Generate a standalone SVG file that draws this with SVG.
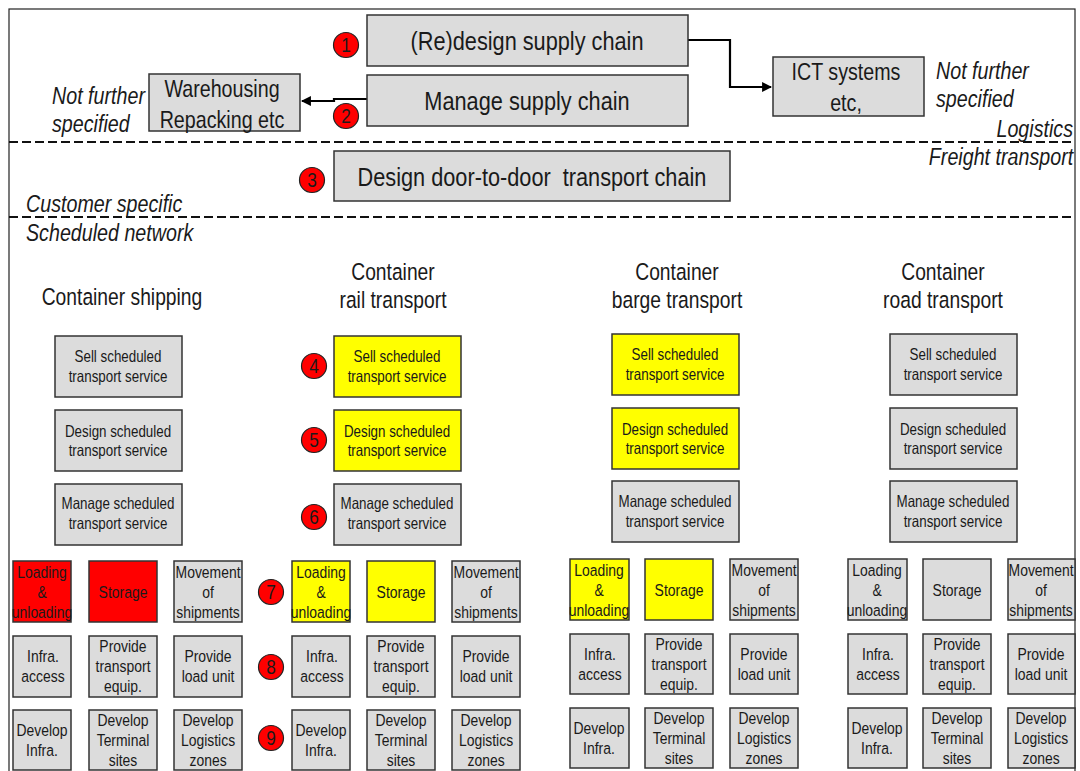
<svg xmlns="http://www.w3.org/2000/svg" width="1080" height="771" viewBox="0 0 1080 771">
<style>
text{font-family:"Liberation Sans Narrow","Arial Narrow","Liberation Sans",Arial,sans-serif;fill:#1a1a1a;transform-box:fill-box;transform-origin:center;transform:scaleX(.82)}
.g{fill:#dcdcdc;stroke:#333;stroke-width:1.5}
.y{fill:#ffff00;stroke:#333;stroke-width:1.5}
.r{fill:#ff0000;stroke:#333;stroke-width:1.5}
.c{fill:#ff0000;stroke:#222;stroke-width:1.2}
.n{font-size:21px;text-anchor:middle}
.big{font-size:26.5px;text-anchor:middle;white-space:pre}
.mid{font-size:24px;text-anchor:middle}
.hd{font-size:23.5px;text-anchor:middle}
.it{font-size:24px;font-style:italic;transform-origin:left center}
.ite{font-size:24px;font-style:italic;text-anchor:end;transform-origin:right center}
.s{font-size:16.3px;text-anchor:middle}
.t{font-size:17px;text-anchor:middle}
.dash{stroke:#111;stroke-width:2;stroke-dasharray:9 4;fill:none}
.con{stroke:#000;stroke-width:2.2;fill:none}
</style>
<defs>
<marker id="ah" viewBox="0 0 10 10" refX="9" refY="5" markerWidth="4.5" markerHeight="4.5" orient="auto"><path d="M0,0 L10,5 L0,10 z" fill="#000"/></marker>
</defs>
<rect x="0" y="0" width="1080" height="771" fill="#fff"/>
<rect x="9" y="9" width="1066" height="780" fill="none" stroke="#222" stroke-width="1.2"/>
<line class="dash" x1="9" y1="142" x2="1075" y2="142"/>
<line class="dash" x1="9" y1="217" x2="1075" y2="217"/>

<g id="labels">
<text class="it" x="52" y="104">Not further</text>
<text class="it" x="52" y="132">specified</text>
<text class="it" x="936" y="79">Not further</text>
<text class="it" x="936" y="107">specified</text>
<text class="ite" x="1073" y="137">Logistics</text>
<text class="ite" x="1073" y="165">Freight transport</text>
<text class="it" x="26" y="212">Customer specific</text>
<text class="it" x="26" y="241">Scheduled network</text>
<text class="hd" x="122" y="305">Container shipping</text>
<text class="hd" x="393" y="280">Container</text>
<text class="hd" x="393" y="308">rail transport</text>
<text class="hd" x="677" y="280">Container</text>
<text class="hd" x="677" y="308">barge transport</text>
<text class="hd" x="943" y="280">Container</text>
<text class="hd" x="943" y="308">road transport</text>
</g>

<g id="connectors">
<path class="con" d="M688,40 H730 V87 H771" marker-end="url(#ah)"/>
<path class="con" d="M367,99 H334 V101 H302" marker-end="url(#ah)"/>
</g>

<g id="n1"><rect class="g" x="367" y="15" width="321" height="51"/><text class="big" x="527" y="50">(Re)design supply chain</text></g>
<g id="n2"><rect class="g" x="367" y="75" width="321" height="51"/><text class="big" x="527" y="110">Manage supply chain</text></g>
<g id="n-wh"><rect class="g" x="149" y="74" width="151" height="57"/><text class="mid" x="222" y="97">Warehousing</text><text class="mid" x="222" y="128">Repacking etc</text></g>
<g id="n-ict"><rect class="g" x="773" y="57" width="151" height="59"/><text class="mid" x="846" y="80">ICT systems</text><text class="mid" x="846" y="111">etc,</text></g>
<g id="n3"><rect class="g" x="334" y="151" width="396" height="50"/><text class="big" x="532" y="186">Design door-to-door  transport chain</text></g>

<g id="badges">
<circle class="c" cx="346" cy="45" r="12.5"/><text class="n" x="346" y="52.5">1</text>
<circle class="c" cx="346" cy="116" r="12.5"/><text class="n" x="346" y="123.5">2</text>
<circle class="c" cx="312" cy="180" r="12.5"/><text class="n" x="312" y="187.5">3</text>
<circle class="c" cx="314" cy="366" r="12.5"/><text class="n" x="314" y="373.5">4</text>
<circle class="c" cx="314" cy="440" r="12.5"/><text class="n" x="314" y="447.5">5</text>
<circle class="c" cx="314" cy="517" r="12.5"/><text class="n" x="314" y="524.5">6</text>
<circle class="c" cx="271" cy="592" r="12.5"/><text class="n" x="271" y="599.5">7</text>
<circle class="c" cx="271" cy="667" r="12.5"/><text class="n" x="271" y="674.5">8</text>
<circle class="c" cx="271" cy="738" r="12.5"/><text class="n" x="271" y="745.5">9</text>
</g>

<!-- Service boxes -->
<g id="ship-sell"><rect class="g" x="55" y="336" width="127" height="61"/><text class="s" x="118" y="362">Sell scheduled</text><text class="s" x="118" y="382">transport service</text></g>
<g id="ship-design"><rect class="g" x="55" y="410" width="127" height="61"/><text class="s" x="118" y="437">Design scheduled</text><text class="s" x="118" y="456">transport service</text></g>
<g id="ship-manage"><rect class="g" x="55" y="484" width="127" height="61"/><text class="s" x="118" y="509">Manage scheduled</text><text class="s" x="118" y="529">transport service</text></g>

<g id="rail-sell"><rect class="y" x="334" y="336" width="127" height="61"/><text class="s" x="397" y="362">Sell scheduled</text><text class="s" x="397" y="382">transport service</text></g>
<g id="rail-design"><rect class="y" x="334" y="410" width="127" height="61"/><text class="s" x="397" y="437">Design scheduled</text><text class="s" x="397" y="456">transport service</text></g>
<g id="rail-manage"><rect class="g" x="334" y="484" width="127" height="61"/><text class="s" x="397" y="509">Manage scheduled</text><text class="s" x="397" y="529">transport service</text></g>

<g id="barge-sell"><rect class="y" x="612" y="334" width="127" height="61"/><text class="s" x="675" y="360">Sell scheduled</text><text class="s" x="675" y="380">transport service</text></g>
<g id="barge-design"><rect class="y" x="612" y="408" width="127" height="61"/><text class="s" x="675" y="435">Design scheduled</text><text class="s" x="675" y="454">transport service</text></g>
<g id="barge-manage"><rect class="g" x="612" y="481" width="127" height="61"/><text class="s" x="675" y="507">Manage scheduled</text><text class="s" x="675" y="527">transport service</text></g>

<g id="road-sell"><rect class="g" x="890" y="334" width="127" height="61"/><text class="s" x="953" y="360">Sell scheduled</text><text class="s" x="953" y="380">transport service</text></g>
<g id="road-design"><rect class="g" x="890" y="408" width="127" height="61"/><text class="s" x="953" y="435">Design scheduled</text><text class="s" x="953" y="454">transport service</text></g>
<g id="road-manage"><rect class="g" x="890" y="481" width="127" height="61"/><text class="s" x="953" y="507">Manage scheduled</text><text class="s" x="953" y="527">transport service</text></g>

<!-- Shipping small boxes -->
<g id="ship-load"><rect class="r" x="13" y="561" width="58" height="61"/><text class="t" x="42" y="578">Loading</text><text class="t" x="42" y="598">&amp;</text><text class="t" x="42" y="618">unloading</text></g>
<g id="ship-store"><rect class="r" x="89" y="561" width="68" height="61"/><text class="t" x="123" y="598">Storage</text></g>
<g id="ship-move"><rect class="g" x="174" y="561" width="68" height="61"/><text class="t" x="208" y="578">Movement</text><text class="t" x="208" y="598">of</text><text class="t" x="208" y="618">shipments</text></g>
<g id="ship-infra"><rect class="g" x="13" y="636" width="58" height="61"/><text class="t" x="43" y="662">Infra.</text><text class="t" x="43" y="682">access</text></g>
<g id="ship-equip"><rect class="g" x="89" y="636" width="68" height="61"/><text class="t" x="123" y="652">Provide</text><text class="t" x="123" y="672">transport</text><text class="t" x="123" y="692">equip.</text></g>
<g id="ship-unit"><rect class="g" x="174" y="636" width="68" height="61"/><text class="t" x="208" y="662">Provide</text><text class="t" x="208" y="682">load unit</text></g>
<g id="ship-dinfra"><rect class="g" x="13" y="710" width="58" height="60"/><text class="t" x="42" y="736">Develop</text><text class="t" x="42" y="756">Infra.</text></g>
<g id="ship-term"><rect class="g" x="89" y="710" width="68" height="60"/><text class="t" x="123" y="726">Develop</text><text class="t" x="123" y="746">Terminal</text><text class="t" x="123" y="766">sites</text></g>
<g id="ship-log"><rect class="g" x="174" y="710" width="68" height="60"/><text class="t" x="208" y="726">Develop</text><text class="t" x="208" y="746">Logistics</text><text class="t" x="208" y="766">zones</text></g>

<!-- Rail small boxes -->
<g id="rail-load"><rect class="y" x="292" y="561" width="58" height="61"/><text class="t" x="321" y="578">Loading</text><text class="t" x="321" y="598">&amp;</text><text class="t" x="321" y="618">unloading</text></g>
<g id="rail-store"><rect class="y" x="367" y="561" width="68" height="61"/><text class="t" x="401" y="598">Storage</text></g>
<g id="rail-move"><rect class="g" x="452" y="561" width="68" height="61"/><text class="t" x="486" y="578">Movement</text><text class="t" x="486" y="598">of</text><text class="t" x="486" y="618">shipments</text></g>
<g id="rail-infra"><rect class="g" x="292" y="636" width="58" height="61"/><text class="t" x="322" y="662">Infra.</text><text class="t" x="322" y="682">access</text></g>
<g id="rail-equip"><rect class="g" x="367" y="636" width="68" height="61"/><text class="t" x="401" y="652">Provide</text><text class="t" x="401" y="672">transport</text><text class="t" x="401" y="692">equip.</text></g>
<g id="rail-unit"><rect class="g" x="452" y="636" width="68" height="61"/><text class="t" x="486" y="662">Provide</text><text class="t" x="486" y="682">load unit</text></g>
<g id="rail-dinfra"><rect class="g" x="292" y="710" width="58" height="60"/><text class="t" x="321" y="736">Develop</text><text class="t" x="321" y="756">Infra.</text></g>
<g id="rail-term"><rect class="g" x="367" y="710" width="68" height="60"/><text class="t" x="401" y="726">Develop</text><text class="t" x="401" y="746">Terminal</text><text class="t" x="401" y="766">sites</text></g>
<g id="rail-log"><rect class="g" x="452" y="710" width="68" height="60"/><text class="t" x="486" y="726">Develop</text><text class="t" x="486" y="746">Logistics</text><text class="t" x="486" y="766">zones</text></g>

<!-- Barge small boxes -->
<g id="barge-load"><rect class="y" x="570" y="559" width="59" height="61"/><text class="t" x="599" y="576">Loading</text><text class="t" x="599" y="596">&amp;</text><text class="t" x="599" y="616">unloading</text></g>
<g id="barge-store"><rect class="y" x="645" y="559" width="68" height="61"/><text class="t" x="679" y="596">Storage</text></g>
<g id="barge-move"><rect class="g" x="730" y="559" width="68" height="61"/><text class="t" x="764" y="576">Movement</text><text class="t" x="764" y="596">of</text><text class="t" x="764" y="616">shipments</text></g>
<g id="barge-infra"><rect class="g" x="570" y="634" width="59" height="60"/><text class="t" x="600" y="660">Infra.</text><text class="t" x="600" y="680">access</text></g>
<g id="barge-equip"><rect class="g" x="645" y="634" width="68" height="60"/><text class="t" x="679" y="650">Provide</text><text class="t" x="679" y="670">transport</text><text class="t" x="679" y="690">equip.</text></g>
<g id="barge-unit"><rect class="g" x="730" y="634" width="68" height="60"/><text class="t" x="764" y="660">Provide</text><text class="t" x="764" y="680">load unit</text></g>
<g id="barge-dinfra"><rect class="g" x="570" y="708" width="59" height="60"/><text class="t" x="599" y="734">Develop</text><text class="t" x="599" y="754">Infra.</text></g>
<g id="barge-term"><rect class="g" x="645" y="708" width="68" height="60"/><text class="t" x="679" y="724">Develop</text><text class="t" x="679" y="744">Terminal</text><text class="t" x="679" y="764">sites</text></g>
<g id="barge-log"><rect class="g" x="730" y="708" width="68" height="60"/><text class="t" x="764" y="724">Develop</text><text class="t" x="764" y="744">Logistics</text><text class="t" x="764" y="764">zones</text></g>

<!-- Road small boxes -->
<g id="road-load"><rect class="g" x="848" y="559" width="59" height="61"/><text class="t" x="877" y="576">Loading</text><text class="t" x="877" y="596">&amp;</text><text class="t" x="877" y="616">unloading</text></g>
<g id="road-store"><rect class="g" x="923" y="559" width="68" height="61"/><text class="t" x="957" y="596">Storage</text></g>
<g id="road-move"><rect class="g" x="1008" y="559" width="67" height="61"/><text class="t" x="1041" y="576">Movement</text><text class="t" x="1041" y="596">of</text><text class="t" x="1041" y="616">shipments</text></g>
<g id="road-infra"><rect class="g" x="848" y="634" width="59" height="60"/><text class="t" x="878" y="660">Infra.</text><text class="t" x="878" y="680">access</text></g>
<g id="road-equip"><rect class="g" x="923" y="634" width="68" height="60"/><text class="t" x="957" y="650">Provide</text><text class="t" x="957" y="670">transport</text><text class="t" x="957" y="690">equip.</text></g>
<g id="road-unit"><rect class="g" x="1008" y="634" width="67" height="60"/><text class="t" x="1041" y="660">Provide</text><text class="t" x="1041" y="680">load unit</text></g>
<g id="road-dinfra"><rect class="g" x="848" y="708" width="59" height="60"/><text class="t" x="877" y="734">Develop</text><text class="t" x="877" y="754">Infra.</text></g>
<g id="road-term"><rect class="g" x="923" y="708" width="68" height="60"/><text class="t" x="957" y="724">Develop</text><text class="t" x="957" y="744">Terminal</text><text class="t" x="957" y="764">sites</text></g>
<g id="road-log"><rect class="g" x="1008" y="708" width="67" height="60"/><text class="t" x="1041" y="724">Develop</text><text class="t" x="1041" y="744">Logistics</text><text class="t" x="1041" y="764">zones</text></g>
</svg>
